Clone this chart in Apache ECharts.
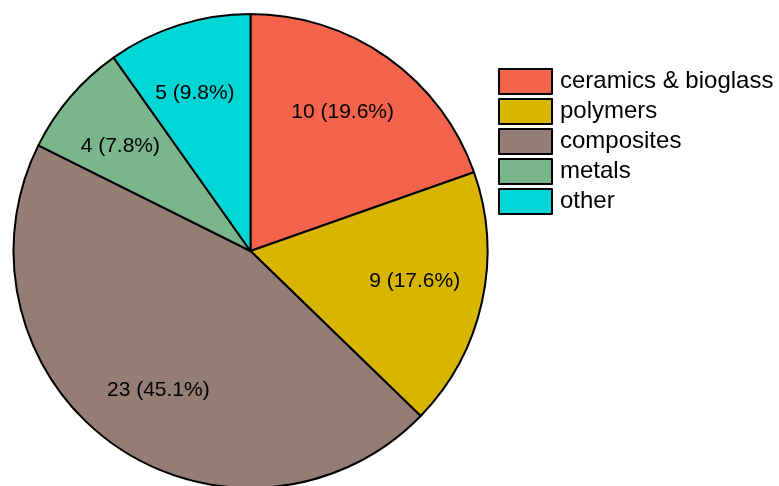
<!DOCTYPE html>
<html><head><meta charset="utf-8">
<script src="https://cdn.jsdelivr.net/npm/echarts@6/dist/echarts.min.js"></script>
<style>html,body{margin:0;padding:0;background:#fff}#c{width:779px;height:486px}</style>
</head><body><div id="c"></div>
<script>
const categories = ['ceramics & bioglass', 'polymers', 'composites', 'metals', 'other'];
const counts = [10, 9, 23, 4, 5];
const colors = ['#F4634B', '#D8B500', '#937D74', '#79B68B', '#00D6D6'];
const total = counts.reduce((a, b) => a + b, 0);
const data = categories.map((n, i) => ({ name: n, value: counts[i], itemStyle: { color: colors[i] } }));
const font = '"Liberation Sans", Arial, sans-serif';
const chart = echarts.init(document.getElementById('c'), null, { renderer: 'canvas' });
chart.setOption({
  animation: false,
  backgroundColor: '#fff',
  legend: {
    orient: 'vertical', left: 498, top: 68, padding: 0,
    itemWidth: 53, itemHeight: 25, itemGap: 3,
    icon: 'rect', data: categories,
    itemStyle: { borderColor: '#000', borderWidth: 2 },
    textStyle: { fontFamily: font, fontSize: 24, color: '#000', lineHeight: 25, padding: [0, 0, 0, 3] }
  },
  series: [
    {
      type: 'pie', center: [250.5, 251], radius: [0, 237], startAngle: 90, clockwise: true,
      silent: true, label: { show: false }, labelLine: { show: false },
      itemStyle: { borderColor: '#000', borderWidth: 2 },
      data: data
    },
    {
      type: 'pie', center: [250.5, 251], radius: [91, 237], startAngle: 91.8, clockwise: true,
      silent: true, legendHoverLink: false,
      itemStyle: { color: 'rgba(0,0,0,0)', borderWidth: 0 },
      label: {
        show: true, position: 'inside', fontFamily: font, fontSize: 21, color: '#000',
        formatter: p => p.value + ' (' + (p.value / total * 100).toFixed(1) + '%)'
      },
      labelLine: { show: false },
      data: categories.map((n, i) => ({ name: n, value: counts[i] }))
    }
  ]
});
</script></body></html>
